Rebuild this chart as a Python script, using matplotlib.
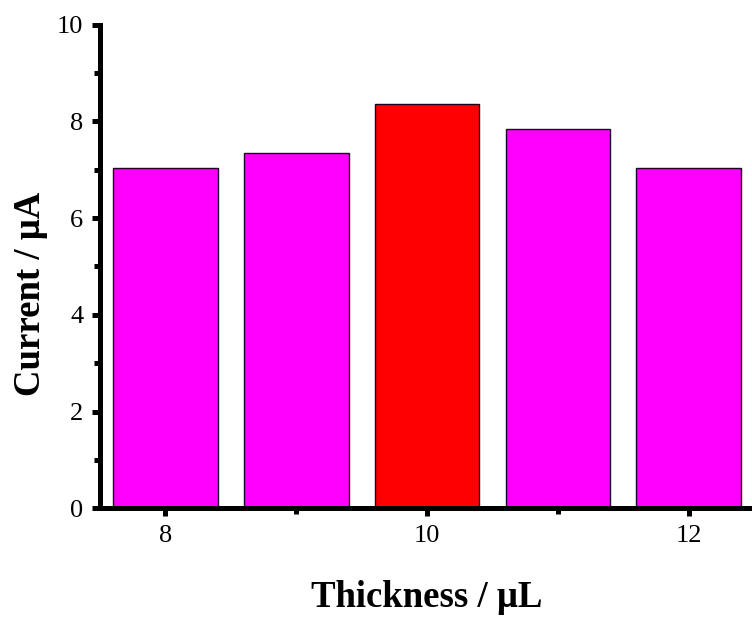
import numpy as np
import matplotlib.pyplot as plt
from matplotlib.ticker import MultipleLocator

plt.rcParams['font.family'] = ['Liberation Serif', 'DejaVu Serif']

thickness = [8, 9, 10, 11, 12]
current = [7.03, 7.34, 8.37, 7.84, 7.04]
colors = ['#FF00FF', '#FF00FF', '#FF0000', '#FF00FF', '#FF00FF']

fig = plt.figure(figsize=(7.52, 6.19), dpi=100)
ax = fig.add_axes([0.133, 0.179, 0.87, 0.781])

ax.bar(thickness, current, width=0.8, color=colors, edgecolor='#200020', linewidth=1.0)

ax.set_xlim(7.5, 12.5)
ax.set_ylim(0, 10)
ax.xaxis.set_major_locator(MultipleLocator(2))
ax.xaxis.set_minor_locator(MultipleLocator(1))
ax.yaxis.set_major_locator(MultipleLocator(2))
ax.yaxis.set_minor_locator(MultipleLocator(1))

for s in ['top', 'right']:
    ax.spines[s].set_visible(False)
for s in ['left', 'bottom']:
    ax.spines[s].set_linewidth(3.6)

ax.tick_params(which='major', direction='out', length=6, width=3.6, labelsize=19, pad=6)
ax.tick_params(which='minor', direction='out', length=4.5, width=3.6)

ax.set_xlabel('Thickness / \u03bcL', fontsize=26.5, fontweight='bold', va='center')
ax.set_ylabel('Current / \u03bcA', fontsize=26.5, fontweight='bold', va='center')
ax.xaxis.set_label_coords(0.50, -0.184)
ax.yaxis.set_label_coords(-0.107, 0.444)

plt.savefig('out.png', dpi=100, facecolor='white')
